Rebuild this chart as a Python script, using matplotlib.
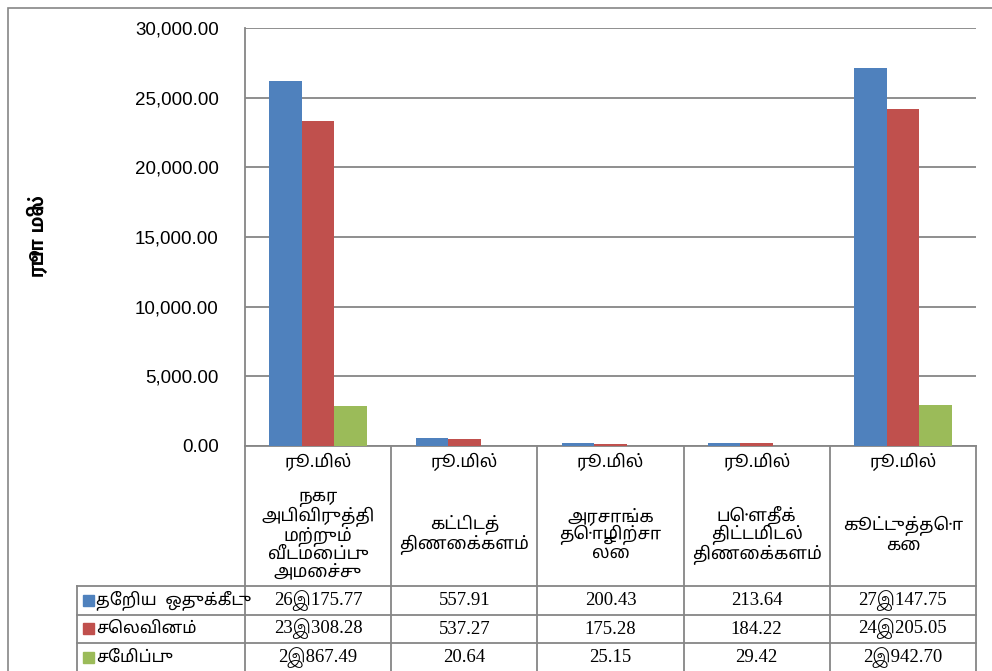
import matplotlib
matplotlib.use("Agg")
import matplotlib.pyplot as plt
from matplotlib.ticker import FuncFormatter
from matplotlib.transforms import blended_transform_factory
from matplotlib.patches import Rectangle

# data (ரூ.மில்)
categories = ["நகர\nஅபிவிருத்தி\nமற்றும்\nவீடமைப்பு\nஅமைச்சு",
              "கட்டிடத்\nதிணைக்களம்",
              "அரசாங்க\nதொழிற்சா\nலை",
              "பௌதீக்\nதிட்டமிடல்\nதிணைக்களம்",
              "கூட்டுத்தொ\nகை"]
unit = "ரூ.மில்"
series_names = ["தேறிய  ஒதுக்கீடு", "செலவினம்", "சேமிப்பு"]
allocation = [26175.77, 557.91, 200.43, 213.64, 27147.75]
expenditure = [23308.28, 537.27, 175.28, 184.22, 24205.05]
savings = [2867.49, 20.64, 25.15, 29.42, 2942.70]
colors = ["#4F81BD", "#C0504D", "#9BBB59"]
yticks = [0, 5000, 10000, 15000, 20000, 25000, 30000]

TAMIL = ["Noto Sans Tamil", "Lohit Tamil", "DejaVu Sans"]
NUM = ["Liberation Serif", "Lohit Tamil", "DejaVu Serif"]
GRID = "#868686"

W, H = 992, 671
fig = plt.figure(figsize=(W / 100, H / 100), dpi=100)

# outer chart border
fig.patches.append(Rectangle((8 / W, -0.1), 1.2, 1 - 8 / H + 0.1, transform=fig.transFigure,
                             fill=False, edgecolor=GRID, linewidth=1.2))

left, right, top, bottom = 245, 976, 28, 446
ax = fig.add_axes([left / W, 1 - bottom / H, (right - left) / W, (bottom - top) / H])

n = len(categories)
x = list(range(n))
bw = 0.222
for k, vals in enumerate([allocation, expenditure, savings]):
    ax.bar([i + (k - 1) * bw for i in x], vals, width=bw, color=colors[k], zorder=3)

ax.set_xlim(-0.5, n - 0.5)
ax.set_ylim(0, 30000)
ax.set_yticks(yticks)
ax.yaxis.set_major_formatter(FuncFormatter(lambda v, p: f"{v:,.2f}"))
ax.tick_params(axis="y", length=0, pad=19, labelsize=13.5)
for lab in ax.get_yticklabels():
    lab.set_family(["Liberation Sans", "DejaVu Sans"])
ax.set_xticks([])
ax.grid(axis="y", color=GRID, linewidth=1.3, zorder=0)
for s in ["top", "right"]:
    ax.spines[s].set_visible(False)
for s in ["left", "bottom"]:
    ax.spines[s].set_color(GRID)
    ax.spines[s].set_linewidth(1.3)

fig.text(38 / W, 1 - 236 / H, "ரூபா மில்", rotation=90, ha="center", va="center",
         fontsize=16, fontweight="bold", family=["Mukta Malar"] + TAMIL)

# data table below the plot area
tax = fig.add_axes([0, 0, 1, 1], zorder=-1)
tax.set_xlim(0, W)
tax.set_ylim(H, 0)
tax.axis("off")
tr = blended_transform_factory(ax.transData, tax.transData)

row_tops = [586, 615, 643, 672]
label_left = 77
lw = 1.3
# vertical lines
for i in range(n + 1):
    tax.plot([i - 0.5, i - 0.5], [bottom, H], color=GRID, lw=lw, transform=tr, clip_on=False)
tax.plot([label_left, label_left], [row_tops[0], H], color=GRID, lw=lw)
# horizontal lines
for yy in row_tops[:-1]:
    tax.plot([label_left, right], [yy, yy], color=GRID, lw=lw)

for i, cat in enumerate(categories):
    tax.text(i, 462, unit, ha="center", va="center", fontsize=12.5, family=TAMIL, transform=tr)
    tax.text(i, 535, cat, ha="center", va="center", fontsize=12.5, family=TAMIL,
             linespacing=0.95, transform=tr)

fmt = lambda v: f"{v:,.2f}".replace(",", "இ")
for k, (name, vals) in enumerate(zip(series_names, [allocation, expenditure, savings])):
    yc = (row_tops[k] + row_tops[k + 1]) / 2
    tax.add_patch(Rectangle((83, yc - 6), 11, 11, color=colors[k]))
    tax.text(96, yc, name, ha="left", va="center", fontsize=12, family=TAMIL)
    for i, v in enumerate(vals):
        tax.text(i, yc, fmt(v), ha="center", va="center", fontsize=13.5,
                 family=NUM, transform=tr)

fig.savefig("out.png", dpi=100)
